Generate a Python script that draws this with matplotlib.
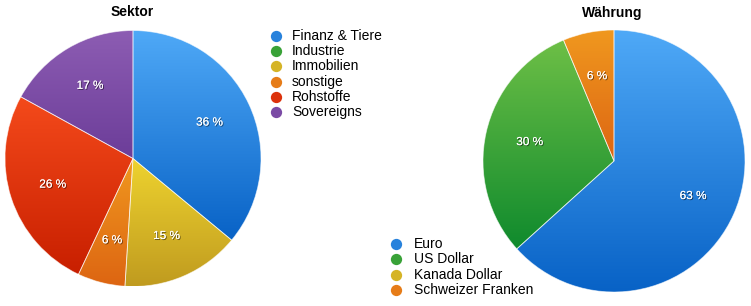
import numpy as np
import matplotlib.pyplot as plt
from matplotlib import patheffects as pe
from matplotlib.colors import to_rgb

plt.rcParams['font.family'] = ['Liberation Sans', 'DejaVu Sans']

sektor_labels = ["Finanz & Tiere", "Industrie", "Immobilien", "sonstige", "Rohstoffe", "Sovereigns"]
sektor_values = [36, 0, 15, 6, 26, 17]

waehrung_labels = ["Euro", "US Dollar", "Kanada Dollar", "Schweizer Franken"]
waehrung_values = [63.3, 30.4, 0, 6.3]

# (top, bottom) gradient colours
blue = ("#4fa9f7", "#0862c6")
green = ("#6dbf46", "#0f8a2d")
yellow = ("#eed32f", "#c09b1f")
orange = ("#f0981f", "#dd6512")
red = ("#f44a1b", "#c81f00")
purple = ("#8d5db3", "#6c3d99")

sektor_colors = [blue, green, yellow, orange, red, purple]
waehrung_colors = [blue, green, yellow, orange]

fig = plt.figure(figsize=(7.51, 3.06), dpi=100)
ax = fig.add_axes([0, 0, 1, 1])

shadow = [pe.withSimplePatchShadow(offset=(0.7, -0.7), shadow_rgbFace="black", alpha=0.55), pe.Normal()]


def mid(c):
    a = np.array(to_rgb(c[0]))
    b = np.array(to_rgb(c[1]))
    return tuple(a * 0.45 + b * 0.55)


def draw_pie(values, grads, center, radius):
    wedges, texts, autotexts = ax.pie(
        values, colors=[mid(g) for g in grads], startangle=90, counterclock=False,
        center=center, radius=radius, pctdistance=0.66,
        autopct=lambda p: f"{p:.0f} %" if p > 0 else "",
        wedgeprops=dict(edgecolor=(1, 1, 1, 0.6), linewidth=0.6),
        textprops=dict(color="white", fontsize=8.5))
    for w, g in zip(wedges, grads):
        if abs(w.theta2 - w.theta1) < 1e-6:
            w.set_visible(False)
            continue
        ext = w.get_path().get_extents()
        t = np.linspace(0, 1, 256)[:, None, None]
        top = np.array(to_rgb(g[0]))
        bot = np.array(to_rgb(g[1]))
        img = bot + (top - bot) * t
        im = ax.imshow(img, extent=(ext.x0, ext.x1, ext.y0, ext.y1), origin="lower",
                       aspect="auto", zorder=1, interpolation="bilinear")
        im.set_clip_path(w)
        w.set_facecolor("none")
        w.set_zorder(2)
    for t in autotexts:
        t.set_zorder(3)
        t.set_path_effects(shadow)


draw_pie(sektor_values, sektor_colors, (133, 147.5), 128)
draw_pie(waehrung_values, waehrung_colors, (614, 145), 131)

ax.text(132, 293.5, "Sektor", ha="center", va="center", fontsize=10, fontweight="bold")
ax.text(612.5, 293.5, "Währung", ha="center", va="center", fontsize=10, fontweight="bold")

for i, (lab, c) in enumerate(zip(sektor_labels, sektor_colors)):
    y = 306 - (36 + i * 15.2)
    ax.scatter(276, y, s=66, color=mid(c), zorder=3, linewidths=0)
    ax.text(292, y, lab, va="center", ha="left", fontsize=10)

for i, (lab, c) in enumerate(zip(waehrung_labels, waehrung_colors)):
    y = 306 - (244 + i * 15.4)
    ax.scatter(396, y, s=66, color=mid(c), zorder=3, linewidths=0)
    ax.text(414, y, lab, va="center", ha="left", fontsize=10)

ax.set_xlim(0, 751)
ax.set_ylim(0, 306)
ax.axis("off")

fig.savefig("out.png", dpi=100)
